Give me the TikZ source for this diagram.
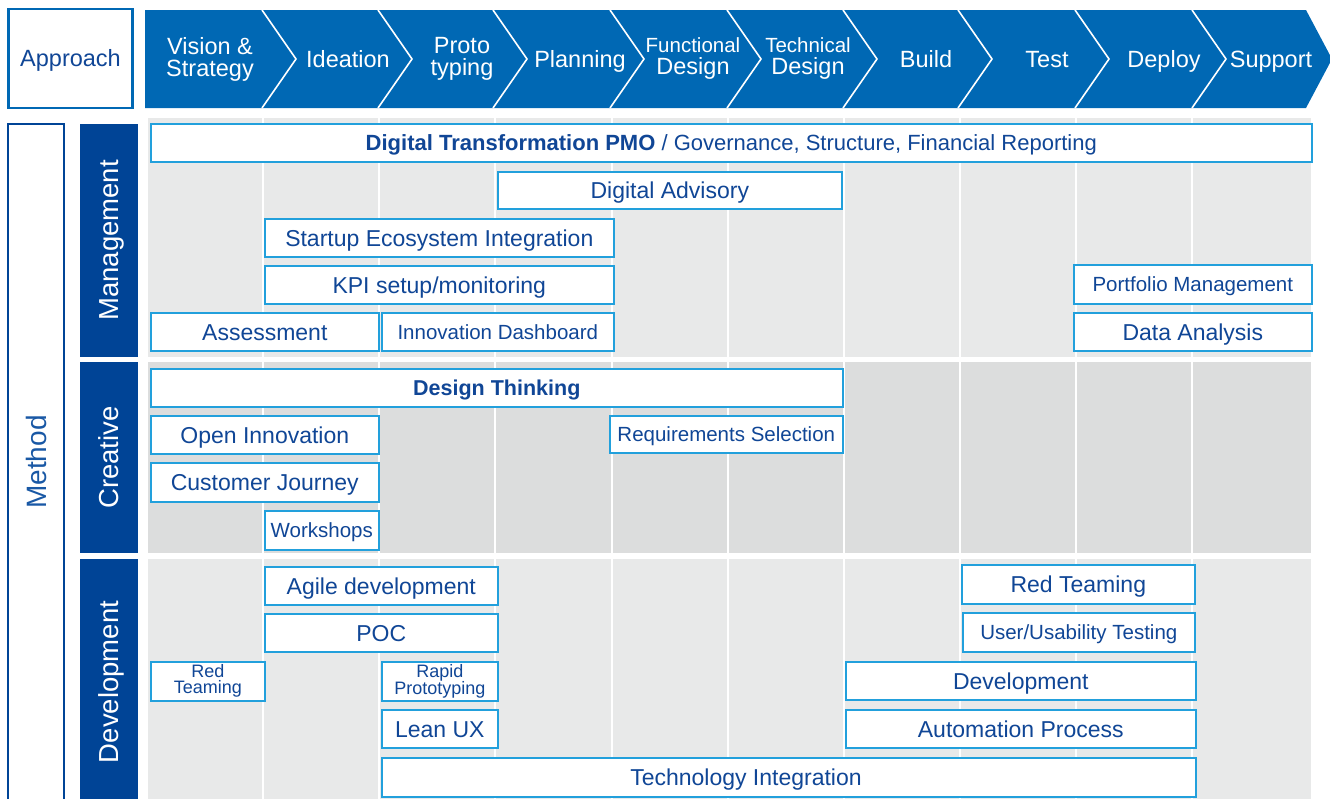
\documentclass[tikz,border=0pt]{standalone}
\usepackage{fontspec}
\setmainfont{Liberation Sans}
\usetikzlibrary{positioning}
\definecolor{hdrblue}{RGB}{0,104,180}
\definecolor{catblue}{RGB}{0,68,150}
\definecolor{lineblue}{RGB}{34,160,220}
\definecolor{txtblue}{RGB}{16,70,150}
\definecolor{methodblue}{RGB}{25,88,165}
\definecolor{bandlight}{RGB}{232,233,233}
\definecolor{banddark}{RGB}{220,221,221}
\tikzstyle{cellbase}=[rectangle,draw=lineblue,fill=white,line width=1.6pt,text=txtblue,inner sep=0pt,anchor=north west]
\tikzstyle{cell}=[cellbase,text height=16.5pt,text depth=0pt,font=\fontsize{23}{24}\selectfont]
\tikzstyle{smallcell}=[cellbase,text height=14.7pt,text depth=0pt,font=\fontsize{20.5}{22}\selectfont]
\tikzstyle{twolinecell}=[cellbase,align=center,font=\fontsize{18}{16}\selectfont]
\tikzstyle{phase}=[text=white,align=center,inner sep=0pt,font=\fontsize{23.5}{22}\selectfont]
\tikzstyle{phaseone}=[phase,text height=16.8pt,text depth=0pt]
\tikzstyle{category}=[rectangle,fill=catblue,text=white,rotate=90,inner sep=0pt,text height=19.7pt,text depth=0pt,font=\fontsize{27.5}{28}\selectfont]
\tikzstyle{separator}=[white,line width=1.6pt]
\tikzstyle{colline}=[white,line width=2pt]

\begin{document}
\begin{tikzpicture}[x=1pt,y=-1pt]
	\useasboundingbox (0,0) rectangle (1330,798);
	\clip (0,0) rectangle (1330,798);

	% phase header
	\node[rectangle,draw=hdrblue,line width=2.5pt,minimum width=124,minimum height=99,text=txtblue,text height=16.8pt,text depth=0pt,font=\fontsize{23.5}{24}\selectfont] (approach) at (70.5,58.5) {Approach};
	\fill[hdrblue] (145,10) -- (1306,10) -- (1332,59) -- (1306,108) -- (145,108) -- cycle;
	\draw[separator] (262,10) -- (296,59) -- (262,108) (378,10) -- (412,59) -- (378,108)
		(493,10) -- (527,59) -- (493,108) (610,10) -- (644,59) -- (610,108)
		(727,10) -- (761,59) -- (727,108) (843,10) -- (877,59) -- (843,108)
		(958,10) -- (992,59) -- (958,108) (1075,10) -- (1109,59) -- (1075,108)
		(1192,10) -- (1226,59) -- (1192,108);
	\node[phase] (vision) at (210,59) {Vision \&\\Strategy};
	\node[phaseone] (ideation) at (348,59) {Ideation};
	\node[phase] (proto) at (462,59) {Proto\\typing};
	\node[phaseone] (planning) at (580,59) {Planning};
	\node[phase] (funcdesign) at (693,59) {{\fontsize{20.5}{22}\selectfont Functional}\\Design};
	\node[phase] (techdesign) at (808,59) {{\fontsize{20.5}{22}\selectfont Technical}\\Design};
	\node[phaseone] (build) at (926,59) {Build};
	\node[phaseone] (test) at (1047,59) {Test};
	\node[phaseone] (deploy) at (1164,59) {Deploy};
	\node[phaseone] (support) at (1271,59) {Support};

	% method column and categories
	\node[rectangle,draw=catblue,line width=2.5pt,rotate=90,minimum width=676,minimum height=56,text=methodblue,text height=20pt,text depth=0pt,font=\fontsize{28}{28}\selectfont] (method) at (36,462) {Method};
	\node[category,minimum width=233,minimum height=58] (management) at (109,240.5) {Management};
	\node[category,minimum width=191,minimum height=58] (creative) at (109,457.5) {Creative};
	\node[category,minimum width=246,minimum height=58] (development) at (109,682) {Development};

	% grey bands with column lines
	\fill[bandlight] (148,118) rectangle (1311,357);
	\fill[banddark] (148,362) rectangle (1311,553);
	\fill[bandlight] (148,559) rectangle (1311,800);
	\draw[colline] (263,118) -- (263,800) (379,118) -- (379,800) (495,118) -- (495,800)
		(612,118) -- (612,800) (728,118) -- (728,800) (844,118) -- (844,800)
		(960,118) -- (960,800) (1076,118) -- (1076,800) (1192,118) -- (1192,800);

	% management
	\node[cell,minimum width=1161,minimum height=38,text height=15.8pt,font=\fontsize{22}{24}\selectfont] (pmo) at (150,123) {\textbf{Digital Transformation PMO} / Governance, Structure, Financial Reporting};
	\node[cell,minimum width=344,minimum height=37] (advisory) at (497,171) {Digital Advisory};
	\node[cell,minimum width=349,minimum height=38] (startup) at (264,218) {Startup Ecosystem Integration};
	\node[cell,minimum width=349,minimum height=38] (kpi) at (264,265) {KPI setup/monitoring};
	\node[cell,minimum width=228,minimum height=38] (assessment) at (150,312) {Assessment};
	\node[smallcell,minimum width=232,minimum height=38] (dashboard) at (381,312) {Innovation Dashboard};
	\node[smallcell,minimum width=238,minimum height=39] (portfolio) at (1073,264) {Portfolio Management};
	\node[cell,minimum width=238,minimum height=38] (dataanalysis) at (1073,312) {Data Analysis};

	% creative
	\node[cell,minimum width=692,minimum height=38,text height=15.4pt,font=\bfseries\fontsize{21.5}{24}\selectfont] (designthinking) at (150,368) {Design Thinking};
	\node[cell,minimum width=228,minimum height=38] (openinno) at (150,415) {Open Innovation};
	\node[smallcell,minimum width=233,minimum height=37] (requirements) at (609,415) {Requirements Selection};
	\node[cell,minimum width=228,minimum height=39] (journey) at (150,462) {Customer Journey};
	\node[smallcell,minimum width=114,minimum height=39] (workshops) at (264,510) {Workshops};

	% development
	\node[cell,minimum width=233,minimum height=38] (agile) at (264,566) {Agile development};
	\node[cell,minimum width=233,minimum height=38] (poc) at (264,613) {POC};
	\node[twolinecell,minimum width=114,minimum height=39] (redteamleft) at (150,661) {Red\\Teaming};
	\node[twolinecell,minimum width=116,minimum height=39] (rapidproto) at (381,661) {Rapid\\Prototyping};
	\node[cell,minimum width=116,minimum height=38] (leanux) at (381,709) {Lean UX};
	\node[cell,minimum width=814,minimum height=39] (techint) at (381,757) {};
	\node[text=txtblue,inner sep=0pt,text height=16.5pt,text depth=0pt,font=\fontsize{23}{24}\selectfont] (techintlabel) at (746,777) {Technology Integration};
	\node[cell,minimum width=233,minimum height=39] (redteamright) at (961,564) {Red Teaming};
	\node[smallcell,minimum width=232,minimum height=39] (usability) at (962,612) {User/Usability Testing};
	\node[cell,minimum width=350,minimum height=38] (devbox) at (845,661) {Development};
	\node[cell,minimum width=350,minimum height=38] (automation) at (845,709) {Automation Process};
\end{tikzpicture}
\end{document}
